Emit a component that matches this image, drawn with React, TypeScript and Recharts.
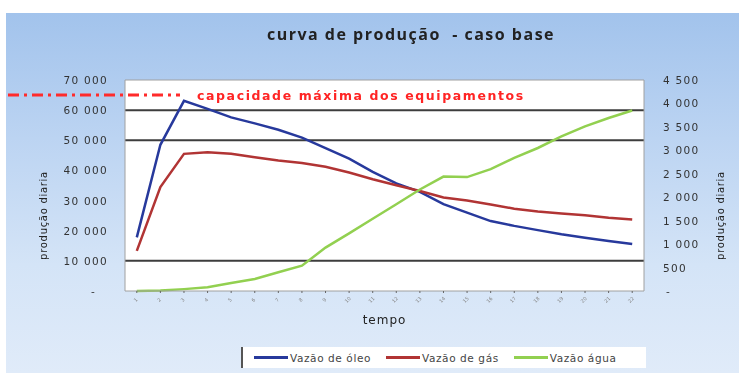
import { LineChart, Line, XAxis, YAxis, CartesianGrid, ReferenceLine, Legend } from "recharts";

// periods along the time axis
const periods = ["1", "2", "3", "4", "5", "6", "7", "8", "9", "10", "11", "12", "13", "14", "15", "16", "17", "18", "19", "20", "21", "22"];

// oil and gas on the left axis, water on the right axis
const oilRate = [17800, 48500, 63100, 60400, 57600, 55600, 53500, 50900, 47400, 43900, 39500, 35700, 32900, 28800, 26000, 23200, 21600, 20200, 18800, 17700, 16600, 15600];
const gasRate = [13300, 34500, 45500, 46000, 45500, 44400, 43300, 42500, 41200, 39300, 37100, 35100, 33200, 31000, 30000, 28700, 27300, 26400, 25700, 25100, 24300, 23700];
const waterRate = [0, 10, 40, 80, 170, 255, 400, 540, 925, 1230, 1540, 1850, 2165, 2440, 2430, 2600, 2840, 3050, 3300, 3510, 3690, 3850];

const leftTicks = [0, 10000, 20000, 30000, 40000, 50000, 60000, 70000];
const rightTicks = [0, 500, 1000, 1500, 2000, 2500, 3000, 3500, 4000, 4500];
const gridLevels = [60000, 50000, 10000];
const capacity = 65000;

const seriesOrder = ["oleo", "gas", "agua"];

const data = periods.map((t, i) => ({
  t,
  oleo: oilRate[i],
  gas: gasRate[i],
  agua: waterRate[i],
}));

const tickFont = { fontFamily: "DejaVu Sans", fontSize: 10.5, fill: "#333", letterSpacing: 1.3 };

const fmt = (v: number) => String(v).replace(/\B(?=(\d{3})+(?!\d))/g, " ");

function LeftTick({ x, y, payload }: any) {
  const v = payload.value;
  return (
    <text x={v === 0 ? x - 12 : x} y={y} dy={4} textAnchor="end" {...tickFont}>
      {v === 0 ? "-" : fmt(v)}
    </text>
  );
}

function RightTick({ x, y, payload }: any) {
  const v = payload.value;
  return (
    <text x={v === 0 ? x + 3 : x} y={y} dy={4} textAnchor="start" {...tickFont}>
      {v === 0 ? "-" : fmt(v)}
    </text>
  );
}

function TimeTick({ x, y, payload }: any) {
  return (
    <text
      x={x}
      y={y + 6}
      transform={`rotate(-45 ${x} ${y + 6})`}
      textAnchor="middle"
      fontFamily="DejaVu Sans"
      fontSize={5}
      fill="#888"
    >
      {payload.value}
    </text>
  );
}

// dash-dot capacity line, running out past the left edge of the plot
function CapacityMark({ x1, y1 }: any) {
  return (
    <g>
      <line x1={8} y1={y1} x2={x1 + 55} y2={y1} stroke="#ff2b2b" strokeWidth={3} strokeDasharray="11 5 3 5" />
      <text
        x={x1 + 72}
        y={y1 + 5}
        fill="#ff2424"
        fontFamily="DejaVu Sans"
        fontWeight="bold"
        fontSize={12.5}
        letterSpacing={1.6}
      >
        capacidade máxima dos equipamentos
      </text>
    </g>
  );
}

const axisTitle = (dx: number) => ({ viewBox }: any) => {
  const cx = viewBox.x + dx;
  const cy = viewBox.y + viewBox.height / 2 + 30;
  return (
    <text
      x={cx}
      y={cy}
      transform={`rotate(-90 ${cx} ${cy})`}
      textAnchor="middle"
      dominantBaseline="central"
      fontFamily="DejaVu Sans"
      fontSize={10}
      letterSpacing={0.7}
      fill="#222"
    >
      produção diaria
    </text>
  );
};

const timeTitle = ({ viewBox }: any) => (
  <text
    x={viewBox.x + viewBox.width / 2}
    y={viewBox.y + 33}
    textAnchor="middle"
    fontFamily="DejaVu Sans"
    fontSize={12}
    letterSpacing={1}
    fill="#222"
  >
    tempo
  </text>
);

const renderLegend = ({ payload }: any) => {
  const items = [...(payload || [])].sort(
    (a: any, b: any) => seriesOrder.indexOf(a.dataKey) - seriesOrder.indexOf(b.dataKey)
  );
  return (
    <div
      style={{
        display: "flex",
        alignItems: "center",
        height: 21,
        background: "#fff",
        borderLeft: "2px solid #555",
        paddingLeft: 11,
        fontFamily: "DejaVu Sans",
        fontSize: 10.5,
        letterSpacing: 0.6,
        color: "#444",
        boxSizing: "border-box",
      }}
    >
      {items.map((e: any) => (
        <div key={e.value} style={{ display: "flex", alignItems: "center", marginRight: 15 }}>
          <span style={{ display: "inline-block", width: 34, height: 3, background: e.color, marginRight: 2 }} />
          {e.value}
        </div>
      ))}
    </div>
  );
};

export default function App() {
  return (
    <div style={{ position: "fixed", left: 0, top: 0, width: 739, height: 376, background: "#fff" }}>
      <div
        style={{
          position: "absolute",
          left: 6,
          top: 13,
          width: 733,
          height: 360,
          background: "linear-gradient(180deg, #a2c3ec 0%, #bcd4f2 35%, #d4e4f7 70%, #e0ebf9 100%)",
        }}
      />
      <div
        style={{
          position: "absolute",
          left: 0,
          top: 23,
          width: 822,
          textAlign: "center",
          fontFamily: "Open Sans",
          fontWeight: 700,
          fontSize: 16,
          letterSpacing: 1.5,
          color: "#222",
          whiteSpace: "pre",
        }}
      >
        curva de produção  - caso base
      </div>
      <div style={{ position: "absolute", left: 0, top: 0 }}>
        <LineChart width={739} height={376} data={data} margin={{ top: 80, right: 0, bottom: 0, left: 0 }}>
          <CartesianGrid horizontal={false} vertical={false} fill="#fff" />
          <XAxis
            dataKey="t"
            scale="band"
            height={85}
            interval={0}
            axisLine={{ stroke: "#a0a0a0" }}
            tickLine={{ stroke: "#666" }}
            tickSize={2}
            tick={<TimeTick />}
            label={{ content: timeTitle }}
          />
          <YAxis
            yAxisId="left"
            width={125}
            domain={[0, 70000]}
            ticks={leftTicks}
            interval={0}
            tickSize={0}
            tickMargin={17}
            axisLine={{ stroke: "#a0a0a0" }}
            tickLine={false}
            tick={<LeftTick />}
            label={{ content: axisTitle(43) }}
          />
          <YAxis
            yAxisId="right"
            orientation="right"
            width={95}
            domain={[0, 4500]}
            ticks={rightTicks}
            interval={0}
            tickSize={0}
            tickMargin={19}
            axisLine={{ stroke: "#a0a0a0" }}
            tickLine={false}
            tick={<RightTick />}
            label={{ content: axisTitle(76) }}
          />
          <ReferenceLine yAxisId="left" y={70000} stroke="#a0a0a0" />
          {gridLevels.map((v) => (
            <ReferenceLine key={v} yAxisId="left" y={v} stroke="#3d3d3d" strokeWidth={2} />
          ))}
          <ReferenceLine yAxisId="left" y={capacity} shape={CapacityMark} />
          <Line yAxisId="left" dataKey="oleo" name="Vazão de óleo" stroke="#27399c" strokeWidth={2.5} dot={false} isAnimationActive={false} />
          <Line yAxisId="left" dataKey="gas" name="Vazão de gás" stroke="#b13434" strokeWidth={2.5} dot={false} isAnimationActive={false} />
          <Line yAxisId="right" dataKey="agua" name="Vazão água" stroke="#92d050" strokeWidth={2.5} dot={false} isAnimationActive={false} />
          <Legend
            layout="horizontal"
            verticalAlign="middle"
            align="center"
            wrapperStyle={{ position: "absolute", left: 241, top: 347, width: 405, height: 21 }}
            content={renderLegend}
          />
        </LineChart>
      </div>
    </div>
  );
}
